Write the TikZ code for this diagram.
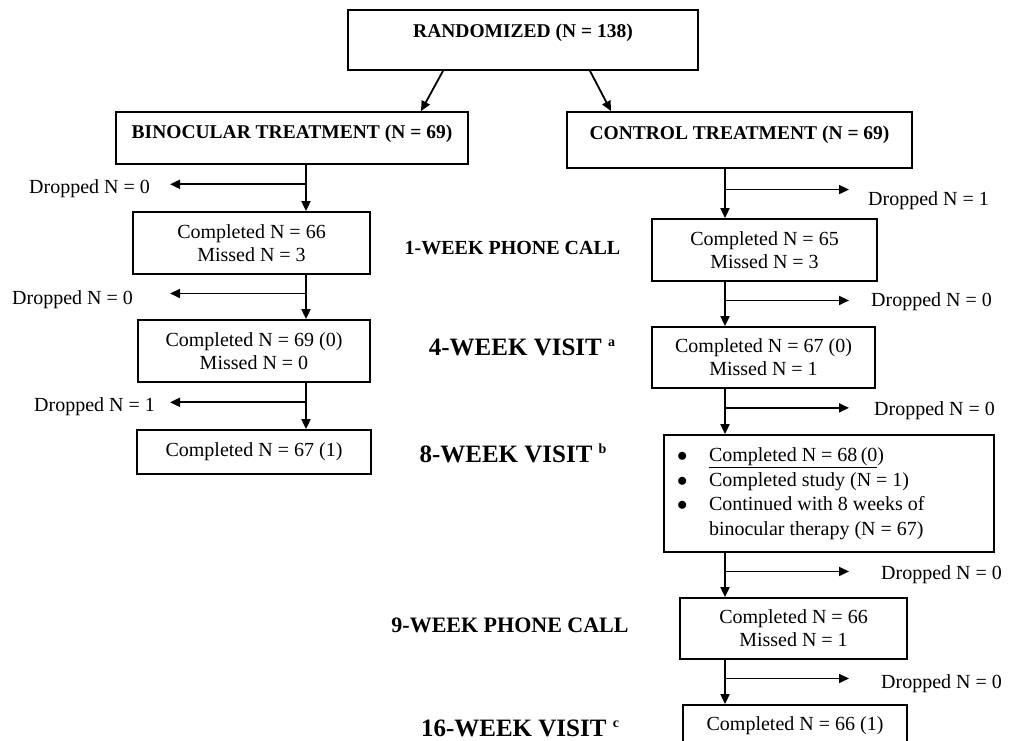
\documentclass[tikz,border=0pt]{standalone}
\usepackage{fontspec}
\setmainfont{Liberation Serif}
\usepackage{tikz}
\usetikzlibrary{arrows.meta,calc}

\newcommand{\stagenote}[1]{\raisebox{9pt}{\fontsize{14}{14}\selectfont #1}}
\newcommand{\armitem}{\makebox[33pt][l]{\hspace*{1pt}$\bullet$}}

\begin{document}
\begin{tikzpicture}[x=1pt,y=-1pt,
    box/.style={draw, line width=1.8pt, inner sep=0pt, align=center,
      font=\fontsize{20}{23}\selectfont},
    head/.style={draw, line width=1.8pt, inner sep=0pt, anchor=base,
      font=\fontsize{19.5}{22}\selectfont\bfseries},
    drop/.style={anchor=west, inner sep=0pt, font=\fontsize{20}{22}\selectfont},
    stage/.style={inner sep=0pt, font=\fontsize{20}{22}\selectfont\bfseries},
    arr/.style={line width=1.8pt, -{Triangle[length=10pt,width=9pt]}}]
  \clip (0,0) rectangle (1025,740);

  % top of the chart
  \node[head, minimum width=350pt, text height=27.5pt, text depth=32.5pt]
    (rand) at (523,37.5) {RANDOMIZED (N = 138)};
  \node[head, minimum width=352pt, text height=26.5pt, text depth=25.5pt]
    (bino) at (292,138.5) {BINOCULAR TREATMENT (N = 69)};
  \node[head, minimum width=345pt, text height=27.5pt, text depth=28.5pt]
    (ctrl) at (739.5,139.5) {CONTROL TREATMENT (N = 69)};
  \draw[arr] ([xshift=-80pt]rand.south) -- ([xshift=129pt]bino.north);
  \draw[arr] ([xshift=67pt]rand.south) -- ([xshift=-128.5pt]ctrl.north);

  % binocular arm
  \node[box, minimum width=237pt, minimum height=62pt] (L1) at (251.5,243)
    {Completed N = 66\\Missed N = 3};
  \node[box, minimum width=232pt, minimum height=62pt] (L2) at (254,351)
    {Completed N = 69 (0)\\Missed N = 0};
  \node[box, minimum width=234pt, minimum height=44pt] (L3) at (254,452)
    {Completed N = 67 (1)};

  % control arm
  \node[box, minimum width=225pt, minimum height=62pt] (R1) at (764.5,250)
    {Completed N = 65\\Missed N = 3};
  \node[box, minimum width=223pt, minimum height=61pt] (R2) at (763.5,357.5)
    {Completed N = 67 (0)\\Missed N = 1};
  \node[box, minimum width=330pt, minimum height=117pt, inner xsep=12pt,
    text width=306pt, align=left, font=\fontsize{20}{24.5}\selectfont]
    (R3) at (829,493.5)
    {\spaceskip=0pt \xspaceskip=0pt
     \armitem\underline{Completed N = 68\,(0})\\
     \armitem Completed study (N = 1)\\
     \armitem Continued with 8 weeks of\\
     \hspace*{33pt}binocular therapy (N = 67)};
  \node[box, minimum width=227pt, minimum height=61pt] (R4) at (793.5,628.5)
    {Completed N = 66\\Missed N = 1};
  \node[head, font=\fontsize{20}{23}\selectfont, minimum width=224pt,
    text height=25.5pt, text depth=40pt] (R5) at (795,730.5)
    {Completed N = 66 (1)};

  % visits
  \node[stage] (w1) at (512.5,248) {1-WEEK PHONE CALL};
  \node[stage, font=\fontsize{25}{27}\selectfont\bfseries] (w4) at (522,347)
    {4-WEEK VISIT \stagenote{a}};
  \node[stage, font=\fontsize{25}{27}\selectfont\bfseries] (w8) at (513,453)
    {8-WEEK VISIT \stagenote{b}};
  \node[stage, font=\fontsize{22}{24}\selectfont\bfseries] (w9) at (510,625)
    {9-WEEK PHONE CALL};
  \node[stage, font=\fontsize{25}{27}\selectfont\bfseries] (w16) at (520,728)
    {16-WEEK VISIT \stagenote{c}};

  % dropped counts
  \node[drop] (dl1) at (29,189) {Dropped N = 0};
  \node[drop] (dl2) at (12,300) {Dropped N = 0};
  \node[drop] (dl3) at (34,407) {Dropped N = 1};
  \node[drop] (dr1) at (868,201) {Dropped N = 1};
  \node[drop] (dr2) at (871,302) {Dropped N = 0};
  \node[drop] (dr3) at (874,411) {Dropped N = 0};
  \node[drop] (dr4) at (881,575) {Dropped N = 0};
  \node[drop] (dr5) at (881,684) {Dropped N = 0};

  % flow lines
  \coordinate (lx) at (306,0);
  \coordinate (lend) at (170,0);
  \coordinate (rx) at (725,0);
  \coordinate (rend) at (849,0);
  \foreach \a/\b in {bino/L1,L1/L2,L2/L3} {
    \draw[arr] (\a.south -| lx) -- (\b.north -| lx);
    \draw[arr] ($(\a.south -| lx)!0.42!(\b.north -| lx)$)
      -- ($(\a.south -| lend)!0.42!(\b.north -| lend)$);
  }
  \foreach \a/\b in {ctrl/R1,R1/R2,R2/R3,R3/R4,R4/R5} {
    \draw[arr] (\a.south -| rx) -- (\b.north -| rx);
    \draw[arr] ($(\a.south -| rx)!0.42!(\b.north -| rx)$)
      -- ($(\a.south -| rend)!0.42!(\b.north -| rend)$);
  }
\end{tikzpicture}
\end{document}
